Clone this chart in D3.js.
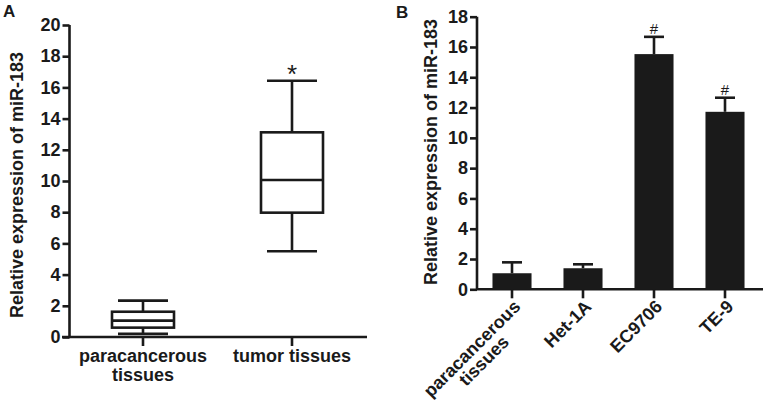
<!DOCTYPE html>
<html><head><meta charset="utf-8">
<script src="https://cdn.jsdelivr.net/npm/d3@7"></script>
<style>body{margin:0;background:#fff}text{font-family:"Liberation Sans",Arial,sans-serif;font-weight:bold;fill:#1a1a1a}</style>
</head><body>
<svg id="c" width="764" height="403"></svg>
<script>
// Panel A: box plot
const boxCats = ["paracancerous\ntissues", "tumor tissues"];
const boxMin = [0.2, 5.5];
const boxQ1 = [0.6, 7.97];
const boxMed = [1.05, 10.06];
const boxQ3 = [1.62, 13.12];
const boxMax = [2.33, 16.43];
const boxMarks = ["", "*"];
const yTicksA = [0, 2, 4, 6, 8, 10, 12, 14, 16, 18, 20];
// Panel B: bar chart
const barCats = ["paracancerous\ntissues", "Het-1A", "EC9706", "TE-9"];
const barVals = [1.06, 1.39, 15.53, 11.72];
const barErr = [0.72, 0.26, 1.14, 0.93];
const barMarks = ["", "", "#", "#"];
const yTicksB = [0, 2, 4, 6, 8, 10, 12, 14, 16, 18];

const svg = d3.select("#c");
const ink = "#1a1a1a";
const sw = 2.6;
const fs = 18;

// ---------- Panel A ----------
const gA = svg.append("g");
const yA = d3.scaleLinear().domain([0, 20]).range([337, 25]);
const xA = d3.scalePoint().domain(boxCats).range([143, 292]);
const axA = gA.append("g").attr("transform", "translate(69.5,0)")
  .call(d3.axisLeft(yA).tickValues(yTicksA).tickSize(7).tickPadding(2));
axA.select(".domain").attr("d", `M0,${yA(20)}V${yA(0)}`);
gA.append("line").attr("x1", 62).attr("x2", 367).attr("y1", yA(0)).attr("y2", yA(0))
  .attr("stroke", ink).attr("stroke-width", sw);
boxCats.forEach(c => gA.append("line").attr("x1", xA(c)).attr("x2", xA(c))
  .attr("y1", yA(0)).attr("y2", yA(0) + 9).attr("stroke", ink).attr("stroke-width", sw));
boxCats.forEach((c, i) => {
  const lines = c.split("\n");
  const t = gA.append("text").attr("x", xA(c)).attr("y", 362).attr("text-anchor", "middle")
    .attr("font-size", fs);
  lines.forEach((l, j) => t.append("tspan").attr("x", xA(c)).attr("dy", j ? 19 : 0).text(l));
});
const bw = 62, cw = 50;
boxCats.forEach((c, i) => {
  const cx = xA(c);
  const g = gA.append("g").attr("stroke", ink).attr("stroke-width", sw).attr("fill", "none");
  g.append("line").attr("x1", cx).attr("x2", cx).attr("y1", yA(boxMax[i])).attr("y2", yA(boxQ3[i]));
  g.append("line").attr("x1", cx).attr("x2", cx).attr("y1", yA(boxQ1[i])).attr("y2", yA(boxMin[i]));
  g.append("line").attr("x1", cx - cw / 2).attr("x2", cx + cw / 2).attr("y1", yA(boxMax[i])).attr("y2", yA(boxMax[i]));
  g.append("line").attr("x1", cx - cw / 2).attr("x2", cx + cw / 2).attr("y1", yA(boxMin[i])).attr("y2", yA(boxMin[i]));
  g.append("rect").attr("x", cx - bw / 2).attr("width", bw).attr("y", yA(boxQ3[i]))
    .attr("height", yA(boxQ1[i]) - yA(boxQ3[i])).attr("fill", "#fff");
  g.append("line").attr("x1", cx - bw / 2).attr("x2", cx + bw / 2).attr("y1", yA(boxMed[i])).attr("y2", yA(boxMed[i]));
  if (boxMarks[i]) gA.append("text").attr("x", cx).attr("y", yA(boxMax[i]) + 2)
    .attr("text-anchor", "middle").attr("font-size", 26).style("font-weight", "normal").text(boxMarks[i]);
});
gA.append("text").attr("transform", "translate(23,185) rotate(-90)").attr("text-anchor", "middle")
  .attr("font-size", fs).text("Relative expression of miR-183");
gA.append("text").attr("x", 3).attr("y", 17).attr("font-size", 17).text("A");

// ---------- Panel B ----------
const gB = svg.append("g");
const yB = d3.scaleLinear().domain([0, 18]).range([289.3, 16.7]);
const xB = d3.scaleBand().domain(barCats).range([476.5, 760.5]).paddingInner(0.45).paddingOuter(0.225);
const axB = gB.append("g").attr("transform", "translate(477,0)")
  .call(d3.axisLeft(yB).tickValues(yTicksB).tickSize(7).tickPadding(2));
axB.select(".domain").attr("d", `M0,${yB(18)}V${yB(0)}`);
gB.append("line").attr("x1", 477).attr("x2", 763).attr("y1", yB(0)).attr("y2", yB(0))
  .attr("stroke", ink).attr("stroke-width", sw);
barCats.forEach((c, i) => {
  const cx = xB(c) + xB.bandwidth() / 2;
  gB.append("rect").attr("x", xB(c)).attr("width", xB.bandwidth()).attr("y", yB(barVals[i]))
    .attr("height", yB(0) - yB(barVals[i])).attr("fill", ink);
  const top = yB(barVals[i] + barErr[i]);
  gB.append("line").attr("x1", cx).attr("x2", cx).attr("y1", yB(barVals[i])).attr("y2", top)
    .attr("stroke", ink).attr("stroke-width", sw);
  gB.append("line").attr("x1", cx - 10).attr("x2", cx + 10).attr("y1", top).attr("y2", top)
    .attr("stroke", ink).attr("stroke-width", sw);
  gB.append("line").attr("x1", cx).attr("x2", cx).attr("y1", yB(0)).attr("y2", yB(0) + 9)
    .attr("stroke", ink).attr("stroke-width", sw);
  if (barMarks[i]) gB.append("text").attr("x", cx).attr("y", top - 3).attr("text-anchor", "middle")
    .attr("font-size", 15).style("font-weight", "normal").text(barMarks[i]);
  const lines = c.split("\n");
  const t = gB.append("text").attr("transform", `translate(${cx + 5},${yB(0) + 14}) rotate(-45)`)
    .attr("text-anchor", "end").attr("font-size", fs);
  const s0 = t.append("tspan").attr("x", 0).attr("dy", "0.35em").text(lines[0]);
  if (lines.length > 1) {
    const s1 = t.append("tspan").attr("x", 0).attr("dy", 17).text(lines[1]);
    const w0 = s0.node().getComputedTextLength(), w1 = s1.node().getComputedTextLength();
    s1.attr("x", -(w0 - w1) / 2);
  }
});
gB.append("text").attr("transform", "translate(437,152) rotate(-90)").attr("text-anchor", "middle")
  .attr("font-size", fs).text("Relative expression of miR-183");
gB.append("text").attr("x", 396).attr("y", 18).attr("font-size", 17).text("B");

svg.selectAll(".tick line").attr("stroke", ink).attr("stroke-width", sw);
svg.selectAll(".domain").attr("stroke", ink).attr("stroke-width", sw);
svg.selectAll(".tick text").attr("font-size", fs).attr("fill", ink)
  .style("font-family", "Liberation Sans, Arial, sans-serif").style("font-weight", "bold");
</script>
</body></html>
